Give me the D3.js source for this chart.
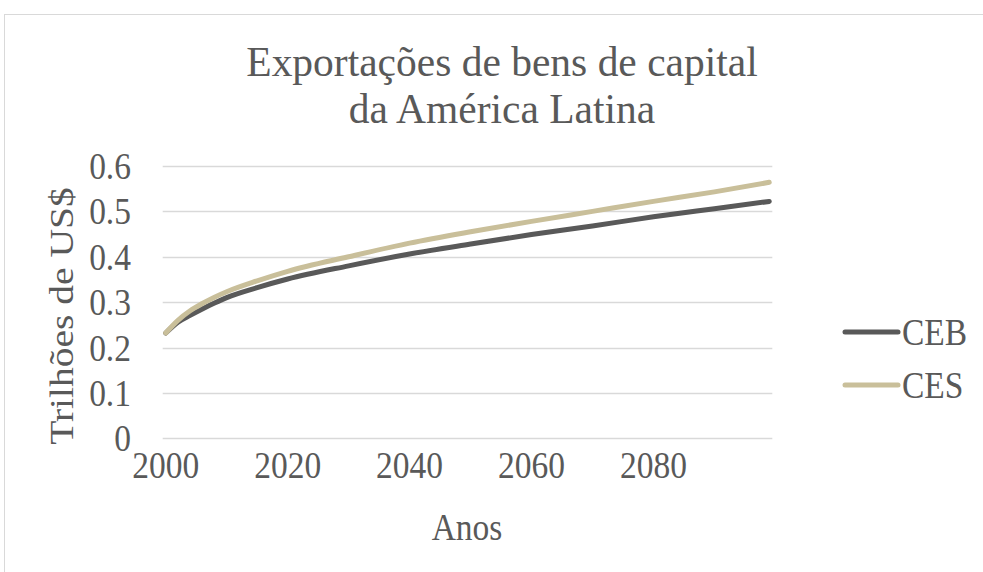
<!DOCTYPE html>
<html><head><meta charset="utf-8">
<script src="https://cdn.jsdelivr.net/npm/d3@7"></script>
<style>body{margin:0;background:#fff;} svg{display:block;} text{font-family:"Liberation Serif","Times New Roman",serif;fill:#595959;}</style>
</head><body>
<svg id="c" width="983" height="572"></svg>
<script>
const years = [2000, 2002, 2004, 2006, 2008, 2010, 2015, 2020, 2030, 2040, 2050, 2060, 2070, 2080, 2090, 2099];
const ceb = [0.232, 0.256, 0.271, 0.285, 0.298, 0.310, 0.332, 0.351, 0.380, 0.406, 0.428, 0.449, 0.468, 0.488, 0.506, 0.522];
const ces = [0.232, 0.260, 0.281, 0.297, 0.311, 0.323, 0.347, 0.368, 0.400, 0.430, 0.455, 0.478, 0.500, 0.522, 0.543, 0.564];
const xTicks = [2000, 2020, 2040, 2060, 2080];
const yTicks = [0, 0.1, 0.2, 0.3, 0.4, 0.5, 0.6];
const seriesNames = ["CEB", "CES"];
const colors = ["#595959", "#c9bf9a"];
const titleLines = ["Exportações de bens de capital", "da América Latina"];

const SY = 1.15; // vertical stretch of text in the reference
const FS = 33.5;

const svg = d3.select("#c");
svg.append("rect").attr("x",4.5).attr("y",14.5).attr("width",1000).attr("height",600)
  .attr("fill","none").attr("stroke","#d9d9d9");

const x = d3.scaleLinear().domain([1999.5, 2099.5]).range([162.7, 772.3]);
const y = d3.scaleLinear().domain([0, 0.6]).range([438.3, 166]);

function stext(parent, tx, ty, str, size, anchor, sx, sy, rot) {
  return parent.append("text")
    .attr("transform", `translate(${tx},${ty})` + (rot ? ` rotate(${rot})` : "") + ` scale(${sx||1},${sy||SY})`)
    .attr("text-anchor", anchor || "start").attr("font-size", size).text(str);
}

// gridlines
svg.append("g").selectAll("line").data(yTicks).join("line")
  .attr("x1", 162.7).attr("x2", 772.3)
  .attr("y1", d => Math.round(y(d))+0.5).attr("y2", d => Math.round(y(d))+0.5)
  .attr("stroke", "#d9d9d9").attr("stroke-width", 1.5);

// y tick labels
const yfmt = d => d === 0 ? "0" : d3.format(".1f")(d);
const gy = svg.append("g");
yTicks.forEach(d => stext(gy, 131, y(d) + 13, yfmt(d), FS, "end"));

// x tick labels
const gx = svg.append("g");
xTicks.forEach(d => stext(gx, x(d), 478, String(d), FS, "middle"));

// lines
const data = [ceb, ces];
const line = d3.line().x((d,i) => x(years[i])).y(d => y(d)).curve(d3.curveMonotoneX);
svg.append("g").selectAll("path").data(data).join("path")
  .attr("d", d => line(d)).attr("fill","none")
  .attr("stroke", (d,i) => colors[i]).attr("stroke-width", 5)
  .attr("stroke-linecap","round").attr("stroke-linejoin","round");

// title (two lines)
titleLines.forEach((t,i) => stext(svg, 502, 75.5 + i*47, t, 39, "middle", 1.064, 1.08));

// axis titles
stext(svg, 73, 316, "Trilhões de US$", FS, "middle", 1.18, 1, -90);
stext(svg, 467, 540, "Anos", FS, "middle");

// legend
const lg = svg.append("g").selectAll("g").data(seriesNames).join("g")
  .attr("transform", (d,i) => `translate(845,${332 + i*53})`);
lg.append("line").attr("x1",0).attr("x2",53).attr("y1",0).attr("y2",0)
  .attr("stroke",(d,i)=>colors[i]).attr("stroke-width",5).attr("stroke-linecap","round");
lg.each(function(d){ stext(d3.select(this), 57, 12.5, d, FS, "start"); });
</script>
</body></html>
